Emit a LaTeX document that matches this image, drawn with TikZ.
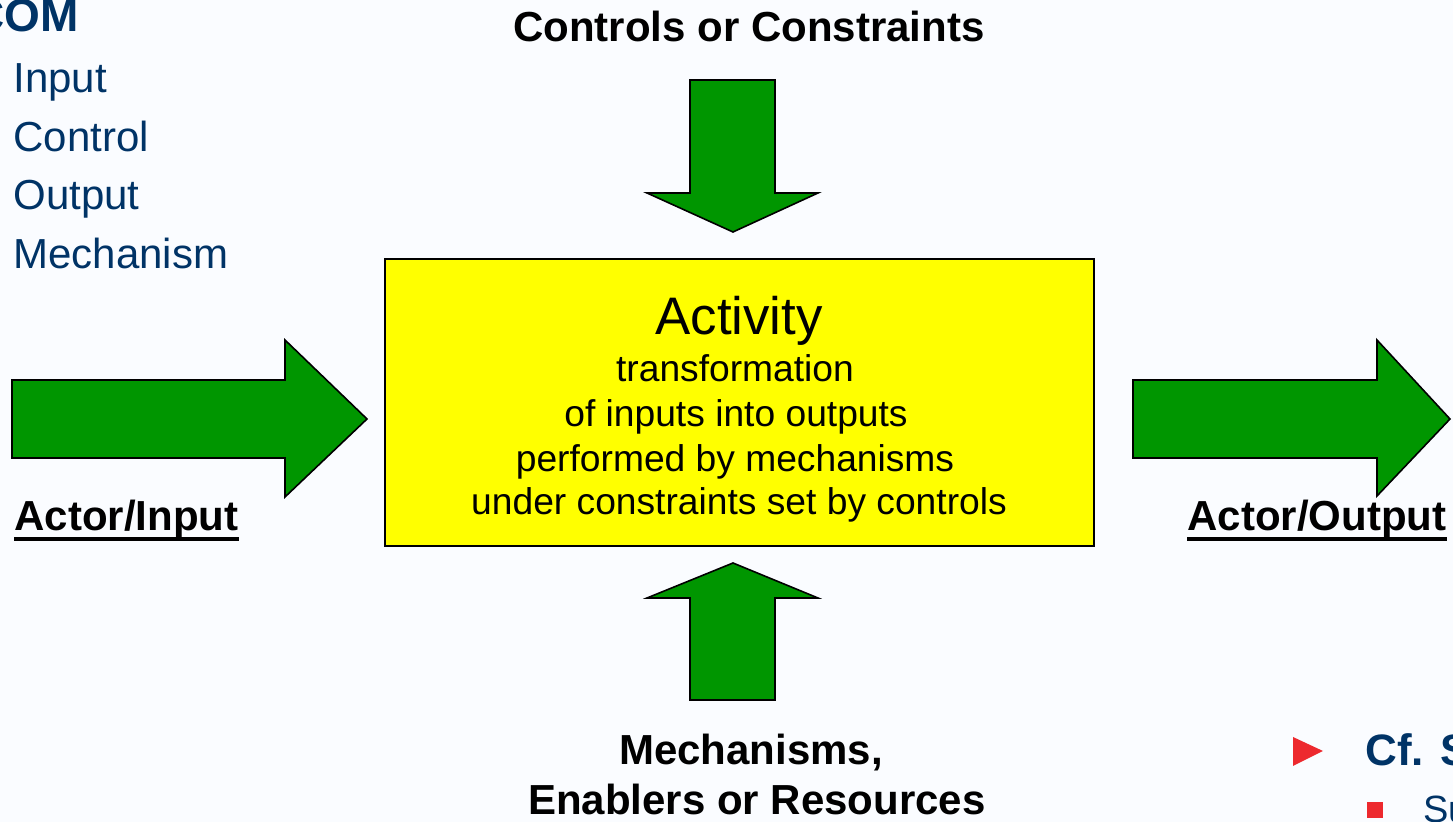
\documentclass[tikz,border=0pt]{standalone}
\usepackage{fontspec}
\setmainfont{Liberation Sans}
\definecolor{slidebg}{RGB}{250,252,255}
\definecolor{arrowgreen}{RGB}{0,150,0}
\definecolor{boxyellow}{RGB}{255,255,0}
\definecolor{navy}{RGB}{0,51,102}
\definecolor{bulletred}{RGB}{237,41,46}

\begin{document}
\begin{tikzpicture}[x=0.5pt,y=-0.5pt,
  blockarrow/.style={fill=arrowgreen, draw=black, line width=0.8pt, line join=miter},
  lbl/.style={font=\fontsize{21}{25}\selectfont\bfseries, inner sep=0pt, anchor=base},
  acttext/.style={font=\fontsize{18.6}{22}\selectfont, inner sep=0pt, anchor=base},
  listitem/.style={font=\fontsize{21}{25}\selectfont, text=navy, inner sep=0pt, anchor=base west}]
%% slide
\clip (0,0) rectangle (1453,822);
\fill[slidebg] (0,0) rectangle (1453,822);
%% list at the top left
\node[font=\fontsize{23}{27}\selectfont\bfseries, text=navy, inner sep=0pt, anchor=base east] (com) at (79,32) {COM};
\foreach \word [count=\i] in {Input,Control,Output,Mechanism}
  \node[listitem] (item\i) at (13,{93+58.4*(\i-1)}) {\word};
%% activity box
\node[draw=black, fill=boxyellow, line width=0.8pt, minimum width=354.5pt, minimum height=143.5pt, inner sep=0pt] (act) at (739.5,402.5) {};
\node[font=\fontsize{26.4}{30}\selectfont, inner sep=0pt, anchor=base] (acttitle) at (739,335) {Activity};
\node[acttext] (line1) at (735,382) {transformation};
\node[acttext] (line2) at (736,427) {of inputs into outputs};
\node[acttext] (line3) at (735,472) {performed by mechanisms};
\node[acttext] (line4) at (739,515) {under constraints set by controls};
%% block arrows
\filldraw[blockarrow] (690,80) -- (775,80) -- (775,193) -- (818,193) -- (733,232) -- (647,193) -- (690,193) -- cycle;
\filldraw[blockarrow] (690,700) -- (775,700) -- (775,598) -- (818,598) -- (733,563) -- (647,598) -- (690,598) -- cycle;
\filldraw[blockarrow] (12,380) -- (285,380) -- (285,340) -- (367,419) -- (285,497) -- (285,458) -- (12,458) -- cycle;
\filldraw[blockarrow] (1133,380) -- (1377,380) -- (1377,340) -- (1450,419) -- (1377,496) -- (1377,458) -- (1133,458) -- cycle;
%% labels
\node[lbl] (ctrl) at (749,42) {Controls or Constraints};
\node[lbl] (mech) at (751,765) {Mechanisms,};
\node[lbl] (res) at (757,815) {Enablers or Resources};
\node[lbl, anchor=base west] (ain) at (14,531) {Actor/Input};
\node[lbl, anchor=base west] (aout) at (1187,531) {Actor/Output};
\draw[line width=2pt] ([yshift=-4pt]ain.base west) -- ([yshift=-4pt]ain.base east);
\draw[line width=2pt] ([yshift=-4pt]aout.base west) -- ([yshift=-4pt]aout.base east);
%% bullets at the bottom right
\fill[bulletred] (1293,737) -- (1323,751) -- (1293,766) -- cycle;
\node[font=\fontsize{22}{26}\selectfont\bfseries, text=navy, inner sep=0pt, anchor=base west] (cf) at (1365,766) {Cf. S};
\fill[bulletred] (1367,802) rectangle (1383,818);
\node[font=\fontsize{19}{23}\selectfont, text=navy, inner sep=0pt, anchor=base west] (su) at (1423,823) {Su};
\end{tikzpicture}
\end{document}
